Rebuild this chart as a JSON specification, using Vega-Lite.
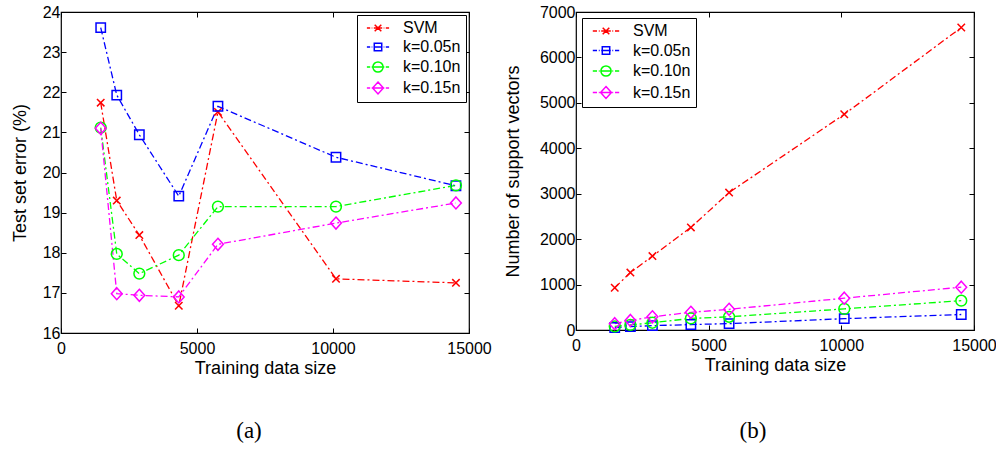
{
  "$schema": "https://vega.github.io/schema/vega-lite/v6.json",
  "padding": {"top": 3, "left": 10, "right": 5, "bottom": 5},
  "background": "#ffffff",
  "datasets": {
    "err": [
      {"size": 1460, "series": "SVM", "value": 21.74},
      {"size": 2050, "series": "SVM", "value": 19.30},
      {"size": 2880, "series": "SVM", "value": 18.44},
      {"size": 4330, "series": "SVM", "value": 16.68},
      {"size": 5770, "series": "SVM", "value": 21.51},
      {"size": 10110, "series": "SVM", "value": 17.35},
      {"size": 14520, "series": "SVM", "value": 17.25},
      {"size": 1460, "series": "k=0.05n", "value": 23.61},
      {"size": 2050, "series": "k=0.05n", "value": 21.93},
      {"size": 2880, "series": "k=0.05n", "value": 20.94},
      {"size": 4330, "series": "k=0.05n", "value": 19.41},
      {"size": 5770, "series": "k=0.05n", "value": 21.65},
      {"size": 10110, "series": "k=0.05n", "value": 20.38},
      {"size": 14520, "series": "k=0.05n", "value": 19.67},
      {"size": 1460, "series": "k=0.10n", "value": 21.12},
      {"size": 2050, "series": "k=0.10n", "value": 17.97},
      {"size": 2880, "series": "k=0.10n", "value": 17.48},
      {"size": 4330, "series": "k=0.10n", "value": 17.94},
      {"size": 5770, "series": "k=0.10n", "value": 19.15},
      {"size": 10110, "series": "k=0.10n", "value": 19.15},
      {"size": 14520, "series": "k=0.10n", "value": 19.68},
      {"size": 1460, "series": "k=0.15n", "value": 21.10},
      {"size": 2050, "series": "k=0.15n", "value": 16.98},
      {"size": 2880, "series": "k=0.15n", "value": 16.94},
      {"size": 4330, "series": "k=0.15n", "value": 16.90},
      {"size": 5770, "series": "k=0.15n", "value": 18.21},
      {"size": 10110, "series": "k=0.15n", "value": 18.74},
      {"size": 14520, "series": "k=0.15n", "value": 19.24}
    ],
    "sv": [
      {"size": 1460, "series": "SVM", "value": 930},
      {"size": 2050, "series": "SVM", "value": 1264},
      {"size": 2880, "series": "SVM", "value": 1627},
      {"size": 4330, "series": "SVM", "value": 2258},
      {"size": 5770, "series": "SVM", "value": 3025},
      {"size": 10110, "series": "SVM", "value": 4748},
      {"size": 14520, "series": "SVM", "value": 6658},
      {"size": 1460, "series": "k=0.05n", "value": 55},
      {"size": 2050, "series": "k=0.05n", "value": 75},
      {"size": 2880, "series": "k=0.05n", "value": 95},
      {"size": 4330, "series": "k=0.05n", "value": 120},
      {"size": 5770, "series": "k=0.05n", "value": 140},
      {"size": 10110, "series": "k=0.05n", "value": 250},
      {"size": 14520, "series": "k=0.05n", "value": 341},
      {"size": 1460, "series": "k=0.10n", "value": 80},
      {"size": 2050, "series": "k=0.10n", "value": 112},
      {"size": 2880, "series": "k=0.10n", "value": 160},
      {"size": 4330, "series": "k=0.10n", "value": 255},
      {"size": 5770, "series": "k=0.10n", "value": 290},
      {"size": 10110, "series": "k=0.10n", "value": 465},
      {"size": 14520, "series": "k=0.10n", "value": 645},
      {"size": 1460, "series": "k=0.15n", "value": 140},
      {"size": 2050, "series": "k=0.15n", "value": 210},
      {"size": 2880, "series": "k=0.15n", "value": 290},
      {"size": 4330, "series": "k=0.15n", "value": 390},
      {"size": 5770, "series": "k=0.15n", "value": 455},
      {"size": 10110, "series": "k=0.15n", "value": 700},
      {"size": 14520, "series": "k=0.15n", "value": 943}
    ]
  },
  "hconcat": [
    {
      "width": 408,
      "height": 321,
      "data": {"name": "err"},
      "title": {"text": "(a)", "orient": "bottom", "font": "Liberation Serif", "fontSize": 23, "fontWeight": "normal", "color": "#000", "offset": 43, "dx": -16},
      "layer": [
        {
          "mark": {"type": "line", "strokeDash": [7, 3, 2, 3], "strokeWidth": 1.3},
          "encoding": {
            "x": {"field": "size", "type": "quantitative", "scale": {"domain": [0, 15000], "nice": false}, "axis": {"orient": "bottom", "values": [0, 5000, 10000, 15000], "format": "d", "labelFlush": false, "labelPadding": 12, "title": "Training data size", "titlePadding": 3}},
            "y": {"field": "value", "type": "quantitative", "scale": {"domain": [16, 24], "nice": false, "zero": false}, "axis": {"orient": "left", "values": [16, 17, 18, 19, 20, 21, 22, 23, 24], "labelPadding": 6, "title": "Test set error (%)", "titlePadding": 13}},
            "color": {"field": "series", "type": "nominal", "scale": {"domain": ["SVM", "k=0.05n", "k=0.10n", "k=0.15n"], "range": ["#ff0000", "#0000ff", "#00ff00", "#ff00ff"]}, "legend": null}
          }
        },
        {
          "mark": {"type": "point", "filled": false, "size": 144, "strokeWidth": 1.5, "opacity": 1},
          "encoding": {
            "x": {"field": "size", "type": "quantitative", "axis": {"orient": "top", "values": [0, 5000, 10000, 15000], "labels": false, "title": null}},
            "y": {"field": "value", "type": "quantitative", "axis": {"orient": "right", "values": [16, 17, 18, 19, 20, 21, 22, 23, 24], "labels": false, "title": null}},
            "color": {"field": "series", "type": "nominal", "scale": {"domain": ["SVM", "k=0.05n", "k=0.10n", "k=0.15n"], "range": ["#ff0000", "#0000ff", "#00ff00", "#ff00ff"]}, "legend": null},
            "shape": {"field": "series", "type": "nominal", "scale": {"domain": ["SVM", "k=0.05n", "k=0.10n", "k=0.15n"], "range": ["M-0.62,-0.62L0.62,0.62M-0.62,0.62L0.62,-0.62", "M-0.78,-0.78H0.78V0.78H-0.78Z", "M0.9,0A0.9,0.9 0 1,1 -0.9,0A0.9,0.9 0 1,1 0.9,0Z", "M0,-1L0.9,0L0,1L-0.9,0Z"]}, "legend": null}
          }
        },
        {
          "mark": {"type": "point", "filled": false, "size": 144, "strokeWidth": 1.5, "opacity": 0},
          "encoding": {
            "x": {"field": "size", "type": "quantitative", "axis": null},
            "y": {"field": "value", "type": "quantitative", "axis": null},
            "color": {"field": "series", "type": "nominal", "scale": {"domain": ["SVM", "k=0.05n", "k=0.10n", "k=0.15n"], "range": ["#ff0000", "#0000ff", "#00ff00", "#ff00ff"]}, "legend": {"orient": "top-right", "offset": 3, "labelOffset": 17, "labelExpr": "datum.label + '\u00a0\u00a0'"}},
            "shape": {"field": "series", "type": "nominal", "scale": {"domain": ["SVM", "k=0.05n", "k=0.10n", "k=0.15n"], "range": ["M-1.85,0H-1.3M-1.05,0H-0.95M-0.7,0H0.7M0.95,0H1.05M1.3,0H1.85M-0.55,-0.55L0.55,0.55M-0.55,0.55L0.55,-0.55", "M-1.85,0H-1.3M-1.05,0H-0.95M-0.7,0H0.7M0.95,0H1.05M1.3,0H1.85M-0.62,-0.62H0.62V0.62H-0.62Z", "M-1.85,0H-1.3M-1.05,0H-0.95M-0.7,0H0.7M0.95,0H1.05M1.3,0H1.85M0.85,0A0.85,0.85 0 1,1 -0.85,0A0.85,0.85 0 1,1 0.85,0Z", "M-1.85,0H-1.3M-1.05,0H-0.95M-0.7,0H0.7M0.95,0H1.05M1.3,0H1.85M0,-1L0.9,0L0,1L-0.9,0Z"]}, "legend": {"orient": "top-right", "offset": 3, "labelOffset": 17, "labelExpr": "datum.label + '\u00a0\u00a0'"}}
          }
        }
      ],
      "resolve": {"axis": {"x": "independent", "y": "independent"}, "scale": {"shape": "independent", "color": "independent"}}
    },
    {
      "width": 398,
      "height": 318,
      "data": {"name": "sv"},
      "title": {"text": "(b)", "orient": "bottom", "font": "Liberation Serif", "fontSize": 23, "fontWeight": "normal", "color": "#000", "offset": 46, "dx": -22},
      "layer": [
        {
          "mark": {"type": "line", "strokeDash": [7, 3, 2, 3], "strokeWidth": 1.3},
          "encoding": {
            "x": {"field": "size", "type": "quantitative", "scale": {"domain": [0, 15000], "nice": false}, "axis": {"orient": "bottom", "values": [0, 5000, 10000, 15000], "format": "d", "labelFlush": false, "labelPadding": 12, "title": "Training data size", "titlePadding": 3}},
            "y": {"field": "value", "type": "quantitative", "scale": {"domain": [0, 7000], "nice": false}, "axis": {"orient": "left", "values": [0, 1000, 2000, 3000, 4000, 5000, 6000, 7000], "format": "d", "labelPadding": 6, "title": "Number of support vectors", "titlePadding": 17}},
            "color": {"field": "series", "type": "nominal", "scale": {"domain": ["SVM", "k=0.05n", "k=0.10n", "k=0.15n"], "range": ["#ff0000", "#0000ff", "#00ff00", "#ff00ff"]}, "legend": null}
          }
        },
        {
          "mark": {"type": "point", "filled": false, "size": 144, "strokeWidth": 1.5, "opacity": 1},
          "encoding": {
            "x": {"field": "size", "type": "quantitative", "axis": {"orient": "top", "values": [0, 5000, 10000, 15000], "labels": false, "title": null}},
            "y": {"field": "value", "type": "quantitative", "axis": {"orient": "right", "values": [0, 1000, 2000, 3000, 4000, 5000, 6000, 7000], "labels": false, "title": null}},
            "color": {"field": "series", "type": "nominal", "scale": {"domain": ["SVM", "k=0.05n", "k=0.10n", "k=0.15n"], "range": ["#ff0000", "#0000ff", "#00ff00", "#ff00ff"]}, "legend": null},
            "shape": {"field": "series", "type": "nominal", "scale": {"domain": ["SVM", "k=0.05n", "k=0.10n", "k=0.15n"], "range": ["M-0.62,-0.62L0.62,0.62M-0.62,0.62L0.62,-0.62", "M-0.78,-0.78H0.78V0.78H-0.78Z", "M0.9,0A0.9,0.9 0 1,1 -0.9,0A0.9,0.9 0 1,1 0.9,0Z", "M0,-1L0.9,0L0,1L-0.9,0Z"]}, "legend": null}
          }
        },
        {
          "mark": {"type": "point", "filled": false, "size": 144, "strokeWidth": 1.5, "opacity": 0},
          "encoding": {
            "x": {"field": "size", "type": "quantitative", "axis": null},
            "y": {"field": "value", "type": "quantitative", "axis": null},
            "color": {"field": "series", "type": "nominal", "scale": {"domain": ["SVM", "k=0.05n", "k=0.10n", "k=0.15n"], "range": ["#ff0000", "#0000ff", "#00ff00", "#ff00ff"]}, "legend": {"orient": "top-left", "offset": 6, "symbolOffset": 11, "labelOffset": 19, "rowPadding": 3.5, "labelExpr": "datum.label + '\u00a0\u00a0\u00a0'"}},
            "shape": {"field": "series", "type": "nominal", "scale": {"domain": ["SVM", "k=0.05n", "k=0.10n", "k=0.15n"], "range": ["M-2.2,0H-1.5M-1.2,0H-1.05M-0.8,0H0.8M1.05,0H1.2M1.5,0H2.2M-0.55,-0.55L0.55,0.55M-0.55,0.55L0.55,-0.55", "M-2.2,0H-1.5M-1.2,0H-1.05M-0.8,0H0.8M1.05,0H1.2M1.5,0H2.2M-0.62,-0.62H0.62V0.62H-0.62Z", "M-2.2,0H-1.5M-1.2,0H-1.05M-0.8,0H0.8M1.05,0H1.2M1.5,0H2.2M0.85,0A0.85,0.85 0 1,1 -0.85,0A0.85,0.85 0 1,1 0.85,0Z", "M-2.2,0H-1.5M-1.2,0H-1.05M-0.8,0H0.8M1.05,0H1.2M1.5,0H2.2M0,-1L0.9,0L0,1L-0.9,0Z"]}, "legend": {"orient": "top-left", "offset": 6, "symbolOffset": 11, "labelOffset": 19, "rowPadding": 3.5, "labelExpr": "datum.label + '\u00a0\u00a0\u00a0'"}}
          }
        }
      ],
      "resolve": {"axis": {"x": "independent", "y": "independent"}, "scale": {"shape": "independent", "color": "independent"}}
    }
  ],
  "spacing": 11,
  "config": {
    "view": {"stroke": "#000000", "strokeWidth": 1.2},
    "axis": {"domain": false, "grid": false, "ticks": true, "tickSize": -5, "tickColor": "#000000", "tickWidth": 1, "labelFont": "Liberation Sans", "labelFontSize": 16, "labelColor": "#000000", "labelPadding": 4, "titleFont": "Liberation Sans", "titleFontSize": 18, "titleFontWeight": "normal", "titleColor": "#000000"},
    "legend": {"title": null, "strokeColor": "#000000", "fillColor": "#ffffff", "padding": 5, "labelFont": "Liberation Sans", "labelFontSize": 16, "labelColor": "#000000", "symbolSize": 144, "symbolStrokeWidth": 1.5, "labelOffset": 14, "symbolOffset": 8, "rowPadding": 3, "symbolOpacity": 1},
    "title": {"font": "Liberation Serif"}
  }
}
